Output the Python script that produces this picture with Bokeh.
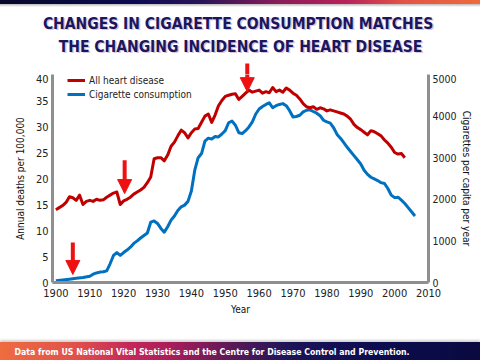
from bokeh.plotting import figure
from bokeh.models import (Range1d, LinearAxis, FixedTicker, Label, Arrow,
                          NormalHead, Legend, LegendItem)
from bokeh.embed import file_html
from bokeh.resources import INLINE

# ---------------- data ----------------
heart_years = [1900, 1901, 1902, 1903, 1904, 1905, 1906, 1907, 1908, 1909,
               1910, 1911, 1912, 1913, 1914, 1915, 1916, 1917, 1918, 1919,
               1920, 1921, 1922, 1923, 1924, 1925, 1926, 1927, 1928, 1929,
               1930, 1931, 1932, 1933, 1934, 1935, 1936, 1937, 1938, 1939,
               1940, 1941, 1942, 1943, 1944, 1945, 1946, 1947, 1948, 1949,
               1950, 1951, 1952, 1953, 1954, 1955, 1956, 1957, 1958, 1959,
               1960, 1961, 1962, 1963, 1964, 1965, 1966, 1967, 1968, 1969,
               1970, 1971, 1972, 1973, 1974, 1975, 1976, 1977, 1978, 1979,
               1980, 1981, 1982, 1983, 1984, 1985, 1986, 1987, 1988, 1989,
               1990, 1991, 1992, 1993, 1994, 1995, 1996, 1997, 1998, 1999,
               2000, 2001, 2002, 2003]
heart_deaths = [14.0, 14.4, 14.8, 15.4, 16.5, 16.3, 15.8, 16.8, 15.0, 15.6,
                15.8, 15.6, 16.0, 15.8, 15.9, 16.4, 16.8, 17.2, 17.4, 15.0,
                15.7, 16.0, 16.4, 17.0, 17.4, 17.8, 18.3, 19.2, 20.3, 23.8,
                24.0, 24.0, 23.4, 24.5, 26.2, 27.0, 28.2, 29.3, 28.8, 27.8,
                28.8, 29.5, 29.6, 30.8, 32.0, 32.4, 30.8, 32.2, 34.0, 35.0,
                35.8, 36.0, 36.2, 36.3, 35.2, 35.8, 36.4, 37.0, 36.6, 36.8,
                37.0, 36.4, 36.7, 36.5, 37.5, 36.7, 37.0, 36.6, 37.4, 37.0,
                36.4, 36.0, 35.3, 34.4, 33.8, 33.6, 33.8, 33.3, 33.6, 33.4,
                33.0, 33.2, 33.0, 32.8, 32.6, 32.4, 32.0, 31.4, 30.4, 29.8,
                29.4, 28.9, 28.4, 29.2, 29.0, 28.6, 28.2, 27.4, 26.8, 26.0,
                25.0, 24.7, 24.8, 24.0]

cig_years = [1900, 1902, 1904, 1906, 1908, 1910, 1911, 1912, 1913, 1914,
             1915, 1916, 1917, 1918, 1919, 1920, 1921, 1922, 1923, 1924,
             1925, 1926, 1927, 1928, 1929, 1930, 1931, 1932, 1933, 1934,
             1935, 1936, 1937, 1938, 1939, 1940, 1941, 1942, 1943, 1944,
             1945, 1946, 1947, 1948, 1949, 1950, 1951, 1952, 1953, 1954,
             1955, 1956, 1957, 1958, 1959, 1960, 1961, 1962, 1963, 1964,
             1965, 1966, 1967, 1968, 1969, 1970, 1971, 1972, 1973, 1974,
             1975, 1976, 1977, 1978, 1979, 1980, 1981, 1982, 1983, 1984,
             1985, 1986, 1987, 1988, 1989, 1990, 1991, 1992, 1993, 1994,
             1995, 1996, 1997, 1998, 1999, 2000, 2001, 2002, 2003, 2004,
             2005, 2006]
cig_per_capita = [40, 60, 80, 100, 120, 150, 200, 230, 250, 260,
                  280, 450, 650, 720, 650, 720, 780, 850, 940, 1000,
                  1070, 1130, 1190, 1450, 1480, 1420, 1300, 1210, 1340, 1500,
                  1600, 1730, 1820, 1860, 1950, 2200, 2700, 3000, 3100, 3400,
                  3470, 3450, 3510, 3500, 3570, 3650, 3840, 3880, 3780, 3600,
                  3580, 3650, 3740, 3860, 4050, 4170, 4230, 4280, 4320, 4200,
                  4250, 4280, 4300, 4250, 4130, 3980, 3990, 4020, 4100, 4140,
                  4150, 4110, 4070, 4010, 3900, 3860, 3830, 3720, 3560, 3470,
                  3360, 3250, 3150, 3050, 2950, 2850, 2700, 2600, 2530, 2490,
                  2450, 2400, 2380, 2260, 2100, 2040, 2050, 1980, 1900, 1800,
                  1700, 1600]

x_ticks = [1900, 1910, 1920, 1930, 1940, 1950, 1960, 1970, 1980, 1990, 2000, 2010]
left_ticks = [0, 5, 10, 15, 20, 25, 30, 35, 40]
right_ticks = [0, 1000, 2000, 3000, 4000, 5000]

# marker arrows (year, top value, tip value on the left axis scale)
arrow_years = [1905, 1920.3, 1956.5]
arrow_from = [7.7, 23.5, 42.1]
arrow_to = [1.55, 17.1, 36.7]

title_lines = ["CHANGES IN CIGARETTE CONSUMPTION  MATCHES",
               "THE CHANGING INCIDENCE OF HEART DISEASE"]
footer_text = "Data from US National Vital Statistics and the Centre for Disease Control and Prevention."

# ---------------- geometry / style ----------------
NARROW = "'Liberation Sans Narrow', 'Arial Narrow', 'DejaVu Sans Condensed', sans-serif"
X0, X1 = 1899, 2010
LEFT_MAX, RIGHT_MAX = 40, 5000
W = 480
FL, FR = 52, 52            # plot frame borders (left / right)
HEAD_H = 74                # title strip height (ends at the 40 gridline)
MAIN_H, MAIN_BOTTOM = 268, 60
FOOT_H = 18
ARROW_RED = "#ee1111"

px_per_year = (W - FL - FR) / (X1 - X0)
px_per_unit = (MAIN_H - MAIN_BOTTOM) / LEFT_MAX


def add_arrows(fig):
    for xv, y0, y1 in zip(arrow_years, arrow_from, arrow_to):
        fig.add_layout(Arrow(end=NormalHead(size=14, fill_color=ARROW_RED, line_color=ARROW_RED),
                             x_start=xv, y_start=y0, x_end=xv, y_end=y1,
                             line_color=ARROW_RED, line_width=4))


# ---------------- title strip ----------------
head = figure(width=W, height=HEAD_H, output_backend="svg", toolbar_location=None,
              x_range=Range1d(X0 - FL / px_per_year, X1 + FR / px_per_year),
              y_range=Range1d(LEFT_MAX, LEFT_MAX + HEAD_H / px_per_unit),
              x_axis_type=None, y_axis_type=None, min_border=0)
head.outline_line_color = None
head.border_fill_color = None
head.background_fill_color = None
head.styles = {"background":
               "linear-gradient(to right, #08082a 0%, #0b0b52 28%, #2a1458 42%, #8a1c5a 58%, "
               "#b8215a 72%, #e25446 84%, #ee6a3c 100%) top / 100% 4px no-repeat, "
               "linear-gradient(to bottom, rgba(0,0,0,0.28), rgba(0,0,0,0)) 0 4px / 100% 3px no-repeat, "
               "white"}
add_arrows(head)
for txt, yy in zip(title_lines, [51, 28]):
    head.add_layout(Label(x=241.5, y=yy - 1.5, x_units="screen", y_units="screen", text=txt,
                          text_align="center", text_baseline="middle",
                          text_font=NARROW, text_font_size="15.5px", text_font_style="bold",
                          text_color="#d9c6d6"))
    head.add_layout(Label(x=240, y=yy, x_units="screen", y_units="screen", text=txt,
                          text_align="center", text_baseline="middle",
                          text_font=NARROW, text_font_size="15.5px", text_font_style="bold",
                          text_color="#1a1660"))

# ---------------- main chart ----------------
p = figure(width=W, height=MAIN_H, output_backend="svg", toolbar_location=None,
           x_range=Range1d(X0, X1), y_range=Range1d(0, LEFT_MAX),
           min_border_left=FL, min_border_right=FR,
           min_border_top=0, min_border_bottom=MAIN_BOTTOM)
p.extra_y_ranges = {"cig": Range1d(0, RIGHT_MAX)}
p.outline_line_color = None
p.xgrid.visible = False
p.ygrid.visible = False
p.border_fill_color = "white"
p.background_fill_color = "white"


def style_axis(ax, tick_size="11px"):
    ax.axis_line_color = "#8f8f8f"
    ax.axis_line_width = 3
    ax.major_tick_line_color = None
    ax.minor_tick_line_color = None
    ax.major_tick_out = 0
    ax.major_tick_in = 0
    ax.minor_tick_out = 0
    ax.minor_tick_in = 0
    ax.major_label_text_font = NARROW
    ax.major_label_text_font_size = tick_size
    ax.major_label_text_color = "#222222"
    ax.axis_label_text_font = NARROW
    ax.axis_label_text_font_size = "10px"
    ax.axis_label_text_font_style = "normal"
    ax.axis_label_text_color = "#111111"


xa = p.xaxis[0]
style_axis(xa)
xa.ticker = FixedTicker(ticks=x_ticks)
xa.axis_label = "Year"
xa.major_label_standoff = 6
xa.axis_label_standoff = 4

ya = p.yaxis[0]
style_axis(ya)
ya.ticker = FixedTicker(ticks=left_ticks)
ya.axis_label = "Annual deaths per 100,000"
ya.major_label_standoff = 4
ya.axis_label_standoff = 7

ra = LinearAxis(y_range_name="cig")
style_axis(ra, tick_size="10.5px")
ra.ticker = FixedTicker(ticks=right_ticks)
ra.axis_label = "Cigarettes per capita per year"
ra.major_label_standoff = 4
ra.axis_label_standoff = 1
p.add_layout(ra, "right")

r_cig = p.line(cig_years, cig_per_capita, line_color="#0070c0", line_width=3,
               line_join="round", y_range_name="cig")
r_heart = p.line(heart_years, heart_deaths, line_color="#c00000", line_width=3,
                 line_join="round")

legend = Legend(items=[LegendItem(label="All heart disease", renderers=[r_heart]),
                       LegendItem(label="Cigarette consumption", renderers=[r_cig])],
                location=(15, 181), margin=0, padding=0, spacing=0,
                glyph_width=18, glyph_height=14, label_height=14, label_standoff=4,
                label_text_font=NARROW, label_text_font_size="10px",
                label_text_color="#222222",
                border_line_color=None, background_fill_alpha=0)
p.add_layout(legend)
add_arrows(p)

# ---------------- footer strip ----------------
foot = figure(width=W, height=FOOT_H, output_backend="svg", toolbar_location=None,
              x_range=Range1d(0, 1), y_range=Range1d(0, 1),
              x_axis_type=None, y_axis_type=None, min_border=0)
foot.outline_line_color = None
foot.border_fill_color = None
foot.background_fill_color = None
foot.styles = {"background":
               "linear-gradient(to right, #ef6c40 0%, #e0504a 16%, #c4285a 27%, #a81c5a 36%, "
               "#5c1a56 48%, #1e1458 60%, #0c0c50 78%, #0a0a40 100%)",
               "box-shadow": "0 -2px 2px rgba(0,0,0,0.18)"}
foot.add_layout(Label(x=14, y=9, x_units="screen", y_units="screen", text=footer_text,
                      text_align="left", text_baseline="middle",
                      text_font=NARROW, text_font_size="8.7px", text_font_style="bold",
                      text_color="white"))

open("out.html", "w").write(file_html([head, p, foot], INLINE))
